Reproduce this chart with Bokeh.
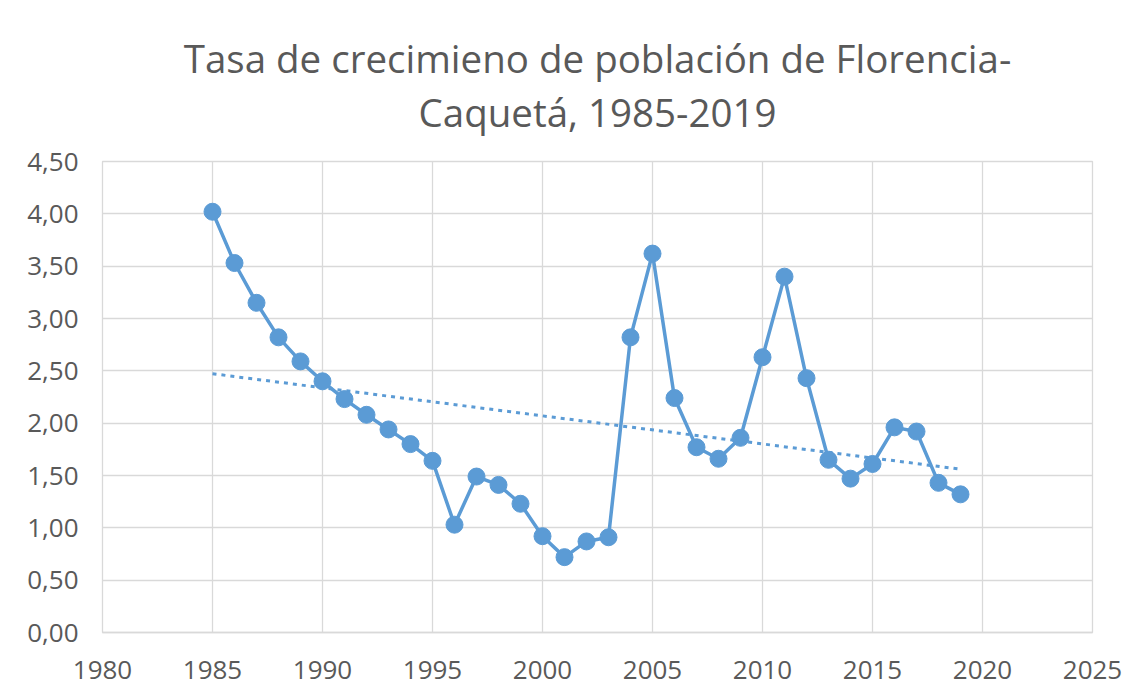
import numpy as np
from bokeh.plotting import figure
from bokeh.models import Title, FixedTicker, Range1d
from bokeh.embed import file_html
from bokeh.resources import INLINE

years = list(range(1985, 2020))
rates = [4.02, 3.53, 3.15, 2.82, 2.59, 2.40, 2.23, 2.08, 1.94, 1.80,
         1.64, 1.03, 1.49, 1.41, 1.23, 0.92, 0.72, 0.87, 0.91, 2.82,
         3.62, 2.24, 1.77, 1.66, 1.86, 2.63, 3.40, 2.43, 1.65, 1.47,
         1.61, 1.96, 1.92, 1.43, 1.32]

x_ticks = [1980, 1985, 1990, 1995, 2000, 2005, 2010, 2015, 2020, 2025]
y_ticks = [0.0, 0.5, 1.0, 1.5, 2.0, 2.5, 3.0, 3.5, 4.0, 4.5]
y_tick_labels = ["0,00", "0,50", "1,00", "1,50", "2,00", "2,50", "3,00", "3,50", "4,00", "4,50"]
title_lines = ["Tasa de crecimieno de población de Florencia-", "Caquetá, 1985-2019"]

# linear trendline (least squares on the data)
coef = np.polyfit(years, rates, 1)
trend_x = [years[0], years[-1]]
trend_y = [float(np.polyval(coef, v)) for v in trend_x]

BLUE = "#5b9bd5"
GRID = "#d9d9d9"
TXT = "#595959"
FONT = "Open Sans"

p = figure(width=1126, height=690, output_backend="svg", toolbar_location=None,
           x_range=Range1d(1980, 2025), y_range=Range1d(0, 4.5),
           min_border_left=102, min_border_right=34, min_border_bottom=58, min_border_top=10)

# panels above the plot: the one added first sits closest to the plot
p.add_layout(Title(text=" ", text_font=FONT, text_font_size="16px", standoff=0), "above")
p.add_layout(Title(text=title_lines[1], align="center", text_font=FONT,
                   text_font_size="38.5px", text_color=TXT, text_font_style="normal",
                   standoff=0), "above")
p.add_layout(Title(text=title_lines[0], align="center", text_font=FONT,
                   text_font_size="38.5px", text_color=TXT, text_font_style="normal",
                   standoff=0), "above")
p.add_layout(Title(text=" ", text_font=FONT, text_font_size="20px", standoff=0), "above")

p.line(trend_x, trend_y, line_color=BLUE, line_width=3, line_dash="4 5")
p.line(years, rates, line_color=BLUE, line_width=3.5)
p.scatter(years, rates, size=17, fill_color=BLUE, line_color=BLUE)

p.xaxis.ticker = FixedTicker(ticks=x_ticks)
p.yaxis.ticker = FixedTicker(ticks=y_ticks)
p.yaxis.major_label_overrides = {t: l for t, l in zip(y_ticks, y_tick_labels)}
p.xaxis.major_label_overrides = {t: str(t) for t in x_ticks}

for ax in (p.xaxis[0], p.yaxis[0]):
    ax.major_tick_line_color = None
    ax.minor_tick_line_color = None
    ax.major_label_text_font = FONT
    ax.major_label_text_font_size = "26px"
    ax.major_label_text_color = TXT
p.xaxis.axis_line_color = GRID
p.xaxis.axis_line_width = 1.5
p.yaxis.axis_line_color = None
p.xaxis.major_label_standoff = 22
p.yaxis.major_label_standoff = 18

p.xgrid.grid_line_color = GRID
p.ygrid.grid_line_color = GRID
p.xgrid.grid_line_width = 1.3
p.ygrid.grid_line_width = 1.3
p.outline_line_color = GRID
p.outline_line_width = 1.3
p.background_fill_color = "white"
p.border_fill_color = "white"

open("out.html", "w").write(file_html(p, INLINE))
